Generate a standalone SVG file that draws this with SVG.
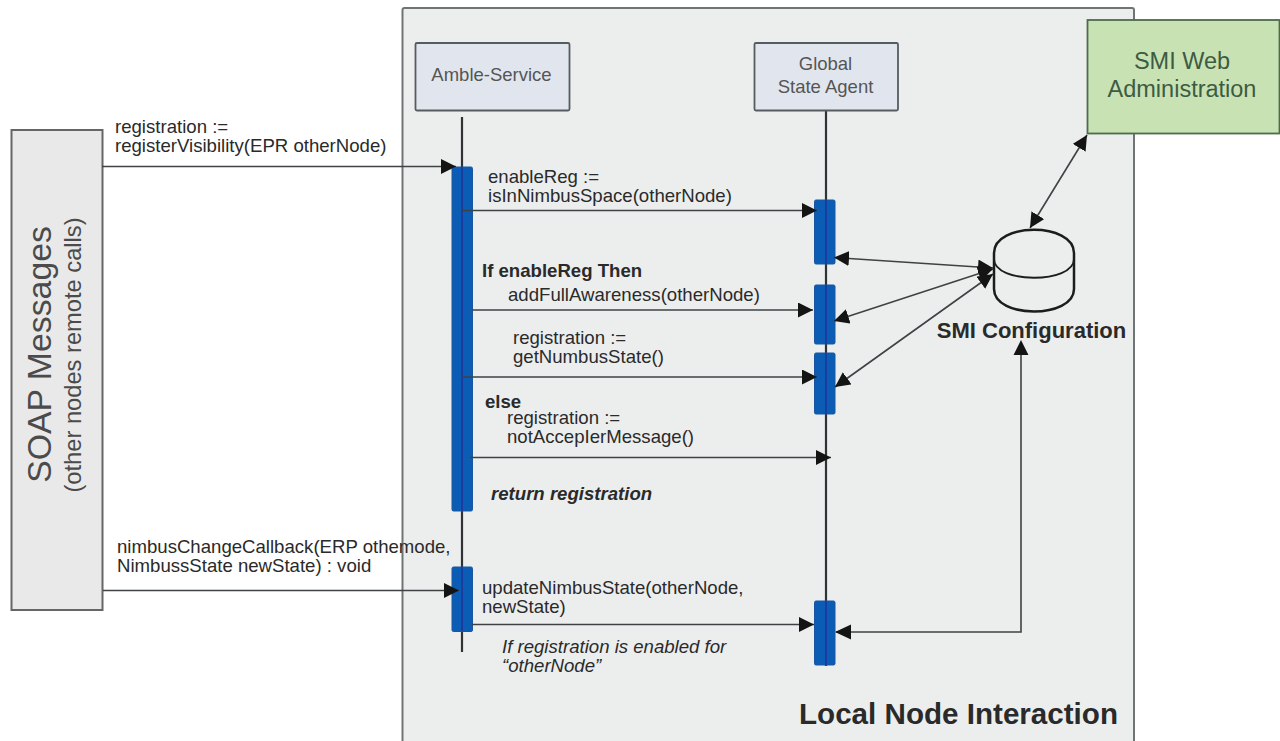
<svg xmlns="http://www.w3.org/2000/svg" width="1280" height="741" viewBox="0 0 1280 741">
<style>
text{font-family:"Liberation Sans",Arial,sans-serif;fill:#2a2a2a}
.m{font-size:18.600px}
.b{font-weight:bold}
.i{font-style:italic}
.box{fill:#e1e6ee;stroke:#555c60;stroke-width:1.8}
.t{font-size:18.500px;fill:#555;text-anchor:middle}
.bar{fill:#0b5cb5;stroke:#1a56a0;stroke-width:1}
.life{stroke:#2f3336;stroke-width:2.2;fill:none}
.barline{stroke:#22309a;stroke-width:1.5;fill:none}
.c{stroke:#3f4244;stroke-width:1.6;fill:none}
.a{marker-end:url(#ah)}
.ab{marker-end:url(#ah);marker-start:url(#as)}
</style>
<defs>
<marker id="ah" viewBox="0 0 10 10" refX="10" refY="5" markerWidth="15" markerHeight="15" markerUnits="userSpaceOnUse" orient="auto"><path d="M0 0L10 5L0 10Z" fill="#141414"/></marker>
<marker id="as" viewBox="0 0 10 10" refX="0" refY="5" markerWidth="15" markerHeight="15" markerUnits="userSpaceOnUse" orient="auto"><path d="M10 0L0 5L10 10Z" fill="#141414"/></marker>
</defs>
<rect width="1280" height="741" fill="#fff"/>
<g id="local-node-interaction">
<path d="M402.500 741V10Q402.500 8 404.500 8H1132Q1134 8 1134 10V741" fill="#eceeee" stroke="#6f7474" stroke-width="2"/>
<text x="799" y="724" class="b" font-size="29.600" fill="#222">Local Node Interaction</text>
</g>
<g id="lifelines">
<path class="life" d="M462 117V652"/>
<path class="life" d="M826 110V666"/>
</g>
<g id="soap-messages">
<rect x="11.500" y="130" width="91" height="480" fill="#e9e9e9" stroke="#666" stroke-width="2"/>
<text transform="translate(51 354.500) rotate(-90)" font-size="33.800" text-anchor="middle" style="fill:#4b4b4b">SOAP Messages</text>
<text transform="translate(81 355) rotate(-90)" font-size="23.700" text-anchor="middle" style="fill:#4b4b4b">(other nodes remote calls)</text>
</g>
<g id="amble-service">
<rect class="box" x="415.500" y="43" width="154" height="67.500" rx="1.500"/>
<text class="t" x="491.500" y="81">Amble-Service</text>
</g>
<g id="global-state-agent">
<rect class="box" x="754.500" y="43" width="143.500" height="67.500" rx="1.500"/>
<text class="t" x="825.500" y="70">Global</text>
<text class="t" x="825.500" y="93">State Agent</text>
</g>
<g id="smi-web-administration">
<rect x="1087.500" y="20" width="192" height="113.500" fill="#c9e2b3" stroke="#4d6b4d" stroke-width="1.800"/>
<text x="1182" y="69" text-anchor="middle" font-size="23.500" style="fill:#3c5c43">SMI Web</text>
<text x="1182" y="97" text-anchor="middle" font-size="23.500" style="fill:#3c5c43">Administration</text>
</g>
<g id="smi-configuration">
<path d="M994 253C994 222 1074 222 1074 253V289C1074 319 994 319 994 289Z" fill="#eceeee" stroke="#1c1c1c" stroke-width="2.500"/>
<path d="M994 259C994 284 1074 284 1074 259" fill="none" stroke="#1c1c1c" stroke-width="1.800"/>
<text x="1031.500" y="338" text-anchor="middle" class="b" font-size="22">SMI Configuration</text>
</g>
<g id="activations">
<rect class="bar" x="452" y="167" width="20.500" height="344" rx="1.500"/><path class="barline" d="M462 167V511"/>
<rect class="bar" x="452" y="567" width="20.500" height="64.500" rx="1.500"/><path class="barline" d="M462 567V631"/>
<rect class="bar" x="814.500" y="200" width="20.500" height="64" rx="1.500"/><path class="barline" d="M826 200V264"/>
<rect class="bar" x="814.500" y="285" width="20.500" height="59" rx="1.500"/><path class="barline" d="M826 285V344"/>
<rect class="bar" x="814.500" y="353" width="20.500" height="61" rx="1.500"/><path class="barline" d="M826 353V414"/>
<rect class="bar" x="814.500" y="601" width="20.500" height="64" rx="1.500"/><path class="barline" d="M826 601V665"/>
</g>
<g id="connectors">
<path class="c a" d="M102 166.500H456"/>
<path class="c a" d="M462 210.500H817"/>
<path class="c a" d="M472 310H813"/>
<path class="c a" d="M462 377H817"/>
<path class="c a" d="M470 457.500H831"/>
<path class="c a" d="M103 590.500H459"/>
<path class="c a" d="M472 624.500H814"/>
<path class="c ab" d="M834 257.500L993 268"/>
<path class="c ab" d="M834 321L993 269"/>
<path class="c ab" d="M835 387L993 274"/>
<path class="c ab" d="M1030 228L1087 135"/>
<path class="c" d="M836 632H1021V353"/>
<path d="M851 624.500L835 632L851 639.500Z M1013.500 355L1021 340L1028.500 355Z" fill="#141414"/>
</g>
<g id="labels">
<text class="m" x="115" y="133">registration :=</text>
<text class="m" x="115" y="152">registerVisibility(EPR otherNode)</text>
<text class="m" x="488" y="183">enableReg :=</text>
<text class="m" x="488" y="202">isInNimbusSpace(otherNode)</text>
<text class="m b" x="482" y="277">If enableReg Then</text>
<text class="m" x="508" y="301">addFullAwareness(otherNode)</text>
<text class="m" x="513" y="344">registration :=</text>
<text class="m" x="513" y="363">getNumbusState()</text>
<text class="m b" x="485" y="408">else</text>
<text class="m" x="507" y="424">registration :=</text>
<text class="m" x="507" y="443">notAccepIerMessage()</text>
<text class="m b i" x="491" y="500">return registration</text>
<text class="m" x="117" y="553">nimbusChangeCallback(ERP othemode,</text>
<text class="m" x="117" y="572">NimbussState newState) : void</text>
<text class="m" x="482" y="594">updateNimbusState(otherNode,</text>
<text class="m" x="482" y="613">newState)</text>
<text class="m i" x="502" y="653">If registration is enabled for</text>
<text class="m i" x="502" y="672">“otherNode”</text>
</g>
</svg>
